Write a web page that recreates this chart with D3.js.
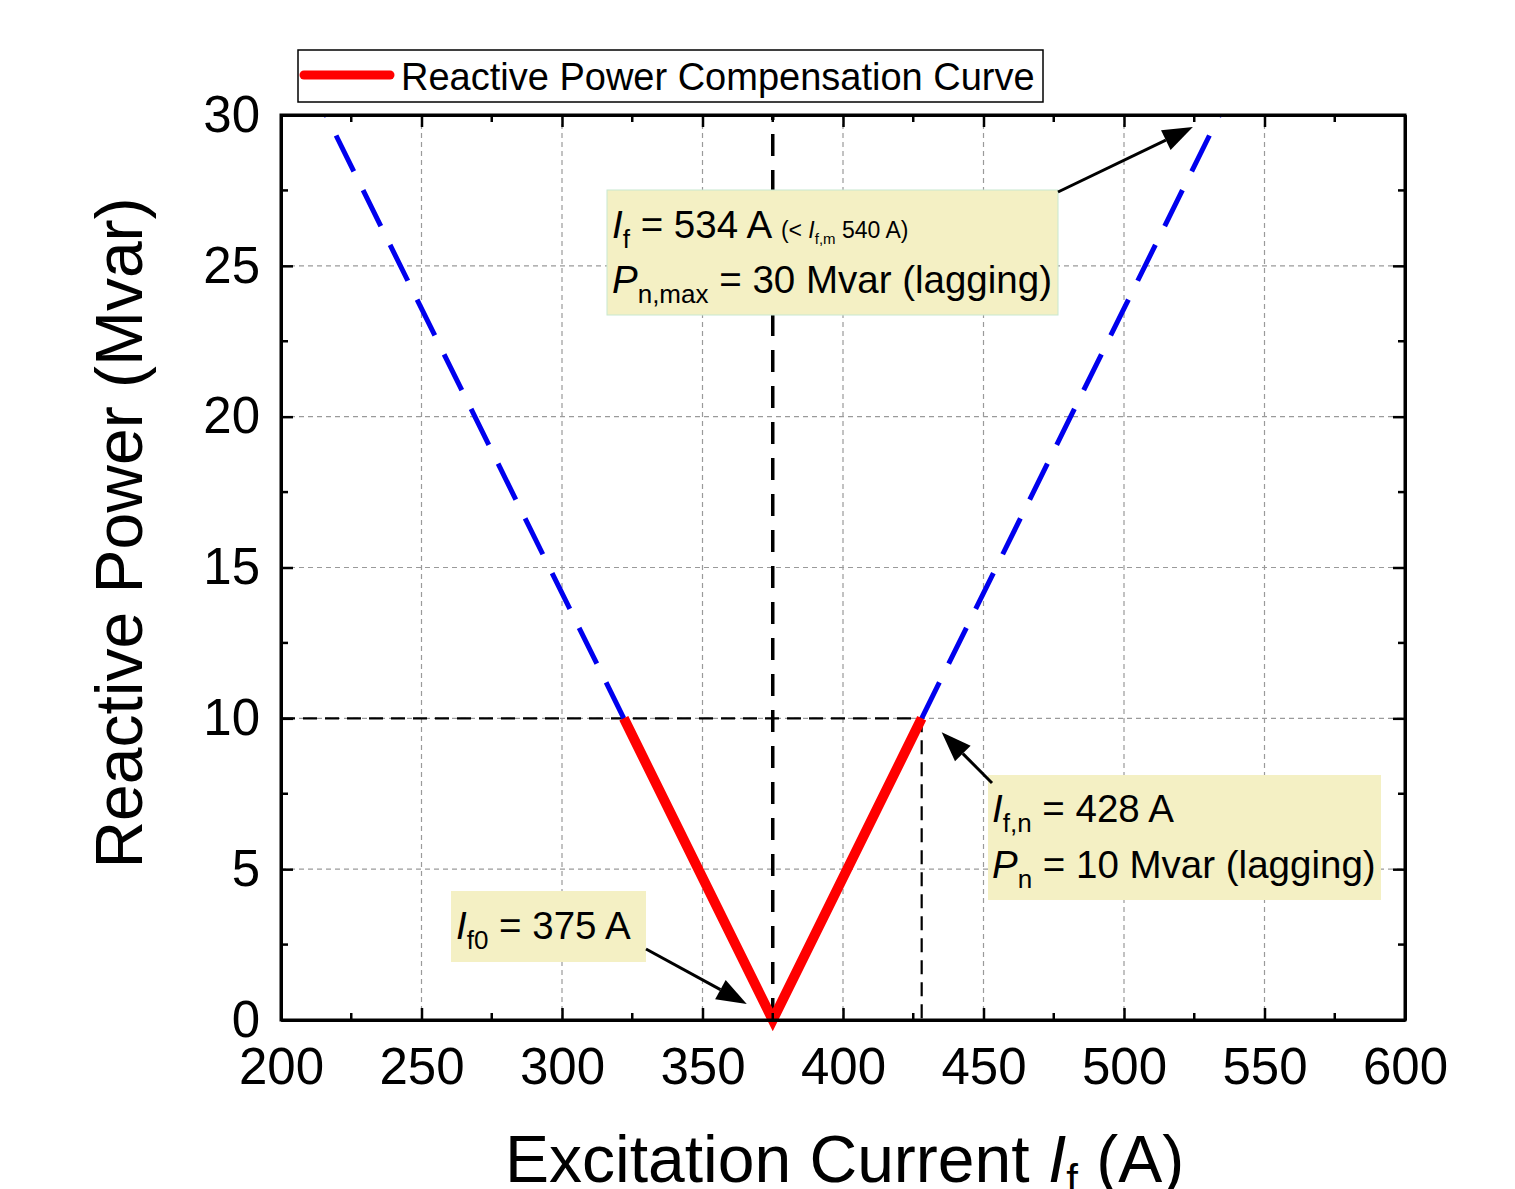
<!DOCTYPE html>
<html>
<head>
<meta charset="utf-8">
<script src="https://cdn.jsdelivr.net/npm/d3@7"></script>
<style>
  body { margin: 0; background: #fff; }
  svg { font-family: "Liberation Sans", Arial, sans-serif; }
</style>
</head>
<body>
<svg id="chart" width="1515" height="1189"></svg>
<script>
// Excitation current (A) vs reactive power (Mvar)
const xTicks = [200, 250, 300, 350, 400, 450, 500, 550, 600];
const yTicks = [0, 5, 10, 15, 20, 25, 30];
// Operating range (solid red)
const curveI = [322, 375, 428];
const curveQ = [10, 0, 10];
// Extension beyond rated point (blue dashed)
const extLeftI = [322, 216];
const extLeftQ = [10, 30];
const extRightI = [428, 534];
const extRightQ = [10, 30];
const If0 = 375, Ifn = 428, Pn = 10;

const svg = d3.select("#chart");
const m = { left: 281, right: 1405, top: 115, bottom: 1020 };
const x = d3.scaleLinear().domain([200, 600]).range([m.left, m.right]);
const y = d3.scaleLinear().domain([0, 30]).range([m.bottom, m.top]);

// grid
const grid = svg.append("g");
xTicks.slice(1, -1).forEach(v => grid.append("line")
  .attr("x1", x(v)).attr("x2", x(v)).attr("y1", y(0)).attr("y2", y(30))
  .attr("stroke", "#9a9a9a").attr("stroke-width", 1.2).attr("stroke-dasharray", "5,4"));
yTicks.slice(1, -1).forEach(v => grid.append("line")
  .attr("x1", x(200)).attr("x2", x(600)).attr("y1", y(v)).attr("y2", y(v))
  .attr("stroke", "#9a9a9a").attr("stroke-width", 1.2).attr("stroke-dasharray", "5,4"));

// reference lines
svg.append("line").attr("x1", x(If0)).attr("x2", x(If0)).attr("y1", y(0)).attr("y2", y(30))
  .attr("stroke", "#000").attr("stroke-width", 3.5).attr("stroke-dasharray", "22,14");
svg.append("line").attr("x1", x(200)).attr("x2", x(Ifn)).attr("y1", y(Pn)).attr("y2", y(Pn))
  .attr("stroke", "#000").attr("stroke-width", 2.2).attr("stroke-dasharray", "14,8");
svg.append("line").attr("x1", x(Ifn)).attr("x2", x(Ifn)).attr("y1", y(Pn)).attr("y2", y(0))
  .attr("stroke", "#000").attr("stroke-width", 2.2).attr("stroke-dasharray", "14,8");

const line = d3.line().x(d => x(d[0])).y(d => y(d[1]));
svg.append("clipPath").attr("id", "plotclip").append("rect")
  .attr("x", m.left).attr("y", m.top).attr("width", m.right - m.left).attr("height", m.bottom - m.top);

[[extLeftI, extLeftQ], [extRightI, extRightQ]].forEach(([I, Q]) => {
  svg.append("path").datum(d3.zip(I, Q)).attr("d", line)
    .attr("clip-path", "url(#plotclip)")
    .attr("fill", "none").attr("stroke", "#0000ee").attr("stroke-width", 5)
    .attr("stroke-dasharray", "40,21");
});
svg.append("path").datum(d3.zip(curveI, curveQ)).attr("d", line)
  .attr("fill", "none").attr("stroke", "#ff0000").attr("stroke-width", 10)
  .attr("stroke-linejoin", "miter");

// axes
const axisW = 3;
const axB = svg.append("g").attr("transform", `translate(0,${m.bottom})`)
  .call(d3.axisBottom(x).tickValues(xTicks).tickSizeInner(-12).tickSizeOuter(0).tickPadding(28));
const axT = svg.append("g").attr("transform", `translate(0,${m.top})`)
  .call(d3.axisTop(x).tickValues(xTicks).tickSizeInner(-12).tickSizeOuter(0).tickFormat(""));
const axL = svg.append("g").attr("transform", `translate(${m.left},0)`)
  .call(d3.axisLeft(y).tickValues(yTicks).tickSizeInner(-12).tickSizeOuter(0).tickPadding(21));
const axR = svg.append("g").attr("transform", `translate(${m.right},0)`)
  .call(d3.axisRight(y).tickValues(yTicks).tickSizeInner(-12).tickSizeOuter(0).tickFormat(""));
// minor ticks
const xMinor = d3.range(225, 600, 50), yMinor = d3.range(2.5, 30, 5);
[[axB, 1], [axT, -1]].forEach(([g, s]) => xMinor.forEach(v => g.append("line")
  .attr("x1", x(v)).attr("x2", x(v)).attr("y1", 0).attr("y2", -7 * s).attr("stroke", "#000").attr("stroke-width", 2.5)));
[[axL, 1], [axR, -1]].forEach(([g, s]) => yMinor.forEach(v => g.append("line")
  .attr("y1", y(v)).attr("y2", y(v)).attr("x1", 0).attr("x2", 7 * s).attr("stroke", "#000").attr("stroke-width", 2.5)));
[axB, axT, axL, axR].forEach(g => {
  g.select(".domain").attr("stroke-width", axisW).attr("stroke", "#000");
  g.selectAll(".tick line").attr("stroke-width", 2.5);
  g.selectAll("text").attr("font-size", 51).attr("fill", "#000").attr("font-family", "Liberation Sans, Arial, sans-serif");
});
svg.append("rect").attr("x", m.left).attr("y", m.top).attr("width", m.right - m.left).attr("height", m.bottom - m.top)
  .attr("fill", "none").attr("stroke", "#000").attr("stroke-width", axisW);

// axis titles
svg.append("text").attr("transform", "translate(142,533) rotate(-90)")
  .attr("text-anchor", "middle").attr("font-size", 66).text("Reactive Power (Mvar)");
const xt = svg.append("text").attr("x", 505).attr("y", 1182).attr("font-size", 66);
xt.append("tspan").text("Excitation Current ");
xt.append("tspan").attr("font-style", "italic").text("I");
xt.append("tspan").attr("font-size", 42).attr("dy", 12).text("f");
xt.append("tspan").attr("dy", -12).text(" (A)");

// legend
svg.append("rect").attr("x", 298).attr("y", 50).attr("width", 745).attr("height", 52)
  .attr("fill", "#fff").attr("stroke", "#000").attr("stroke-width", 1.5);
svg.append("line").attr("x1", 304).attr("x2", 390).attr("y1", 75).attr("y2", 75)
  .attr("stroke", "#ff0000").attr("stroke-width", 9).attr("stroke-linecap", "round");
svg.append("text").attr("x", 401).attr("y", 90).attr("font-size", 38).text("Reactive Power Compensation Curve");

// annotation boxes
const boxFill = "#f4f0c4";
function box(x0, y0, w, h, stroke) {
  svg.append("rect").attr("x", x0).attr("y", y0).attr("width", w).attr("height", h)
    .attr("fill", boxFill).attr("stroke", stroke || "none").attr("stroke-width", 1);
}
function arrow(x1, y1, x2, y2) {
  const a = Math.atan2(y2 - y1, x2 - x1), L = 30, W = 11;
  const bx = x2 - L * Math.cos(a), by = y2 - L * Math.sin(a);
  svg.append("line").attr("x1", x1).attr("y1", y1).attr("x2", bx).attr("y2", by)
    .attr("stroke", "#000").attr("stroke-width", 3);
  svg.append("path").attr("d",
    `M${x2},${y2}L${bx + W * Math.sin(a)},${by - W * Math.cos(a)}L${bx - W * Math.sin(a)},${by + W * Math.cos(a)}Z`)
    .attr("fill", "#000");
}
function sub(t, base, subtxt, rest) {
  t.append("tspan").attr("font-style", "italic").text(base);
  t.append("tspan").attr("font-size", 26).attr("dy", 10).text(subtxt);
  t.append("tspan").attr("dy", -10).text(rest);
}

// maximum point
box(607, 190, 451, 125, "#c8e8d0");
arrow(1058, 192, x(524.5), y(29.6));
let t = svg.append("text").attr("x", 612).attr("y", 238).attr("font-size", 38.5);
sub(t, "I", "f", " = 534 A ");
t.append("tspan").attr("font-size", 23).text("(< ");
t.append("tspan").attr("font-size", 23).attr("font-style", "italic").text("I");
t.append("tspan").attr("font-size", 15).attr("dy", 6).text("f,m");
t.append("tspan").attr("font-size", 23).attr("dy", -6).text(" 540 A)");
t = svg.append("text").attr("x", 612).attr("y", 293).attr("font-size", 38.5);
sub(t, "P", "n,max", " = 30 Mvar (lagging)");

// rated point
box(988, 775, 393, 125);
arrow(992, 783, x(Ifn) + 20, y(Pn) + 14);
t = svg.append("text").attr("x", 992).attr("y", 822).attr("font-size", 38.5);
sub(t, "I", "f,n", " = 428 A");
t = svg.append("text").attr("x", 992).attr("y", 878).attr("font-size", 38.5);
sub(t, "P", "n", " = 10 Mvar (lagging)");

// no-load point
box(451, 891, 195, 71);
arrow(646, 949, x(If0) - 26, y(0) - 16);
t = svg.append("text").attr("x", 456).attr("y", 939).attr("font-size", 38.5);
sub(t, "I", "f0", " = 375 A");
</script>
</body>
</html>
